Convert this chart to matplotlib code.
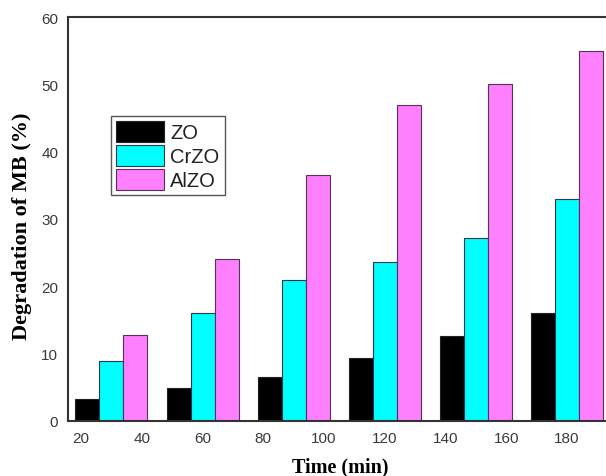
import numpy as np
import matplotlib
matplotlib.use("Agg")
import matplotlib.pyplot as plt

groups = [30, 60, 90, 120, 150, 180]
zo = [3.2, 4.9, 6.5, 9.3, 12.6, 16.0]
crzo = [8.9, 16.0, 21.0, 23.6, 27.2, 32.9]
alzo = [12.7, 24.1, 36.5, 47.0, 50.0, 55.0]
xticks = [20, 40, 60, 80, 100, 120, 140, 160, 180]
yticks = [0, 10, 20, 30, 40, 50, 60]

W, H = 606, 477
fig = plt.figure(figsize=(W / 100, H / 100), dpi=100)
left, right, top, bottom = 68, 611, 18, 422
ax = fig.add_axes([left / W, 1 - bottom / H, (right - left) / W, (bottom - top) / H])

x = np.array(groups)
bw = 7.9
ax.bar(x - bw, zo, bw, color="black", edgecolor="#222222", lw=0.8, label="ZO")
ax.bar(x, crzo, bw, color="#00FFFF", edgecolor="#333355", lw=0.8, label="CrZO")
ax.bar(x + bw, alzo, bw, color="#FF80FF", edgecolor="#553355", lw=0.8, label="AlZO")

ax.set_xlim(15.7, 194.5)
ax.set_ylim(0, 60)
ax.set_xticks(xticks)
ax.set_yticks(yticks)
ax.tick_params(length=0, labelsize=11, colors="#3a3a3a", pad=7)
for lab in ax.get_xticklabels() + ax.get_yticklabels():
    lab.set_family("Liberation Sans")
for s in ax.spines.values():
    s.set_linewidth(1.5)
    s.set_color("#333333")

fig.text(22 / W, 1 - 226 / H, "Degradation of MB (%)", rotation=90, ha="center", va="center",
         family="Liberation Serif", weight="bold", fontsize=16)
fig.text(340 / W, 1 - 467 / H, "Time (min)", ha="center", va="center",
         family="Liberation Serif", weight="bold", fontsize=14.5)

leg = ax.legend(loc="upper left", bbox_to_anchor=(111 / W, 1 - 117 / H),
                bbox_transform=fig.transFigure, fancybox=False, framealpha=1,
                edgecolor="#555555", handlelength=2.4, handleheight=1.2,
                handletextpad=0.3, labelspacing=0.15, borderpad=0.25, borderaxespad=0,
                prop={"family": "Liberation Sans", "size": 14.5})
leg.get_frame().set_linewidth(1.0)
for t in leg.get_texts():
    t.set_color("#222222")

fig.savefig("out.png", dpi=100)
